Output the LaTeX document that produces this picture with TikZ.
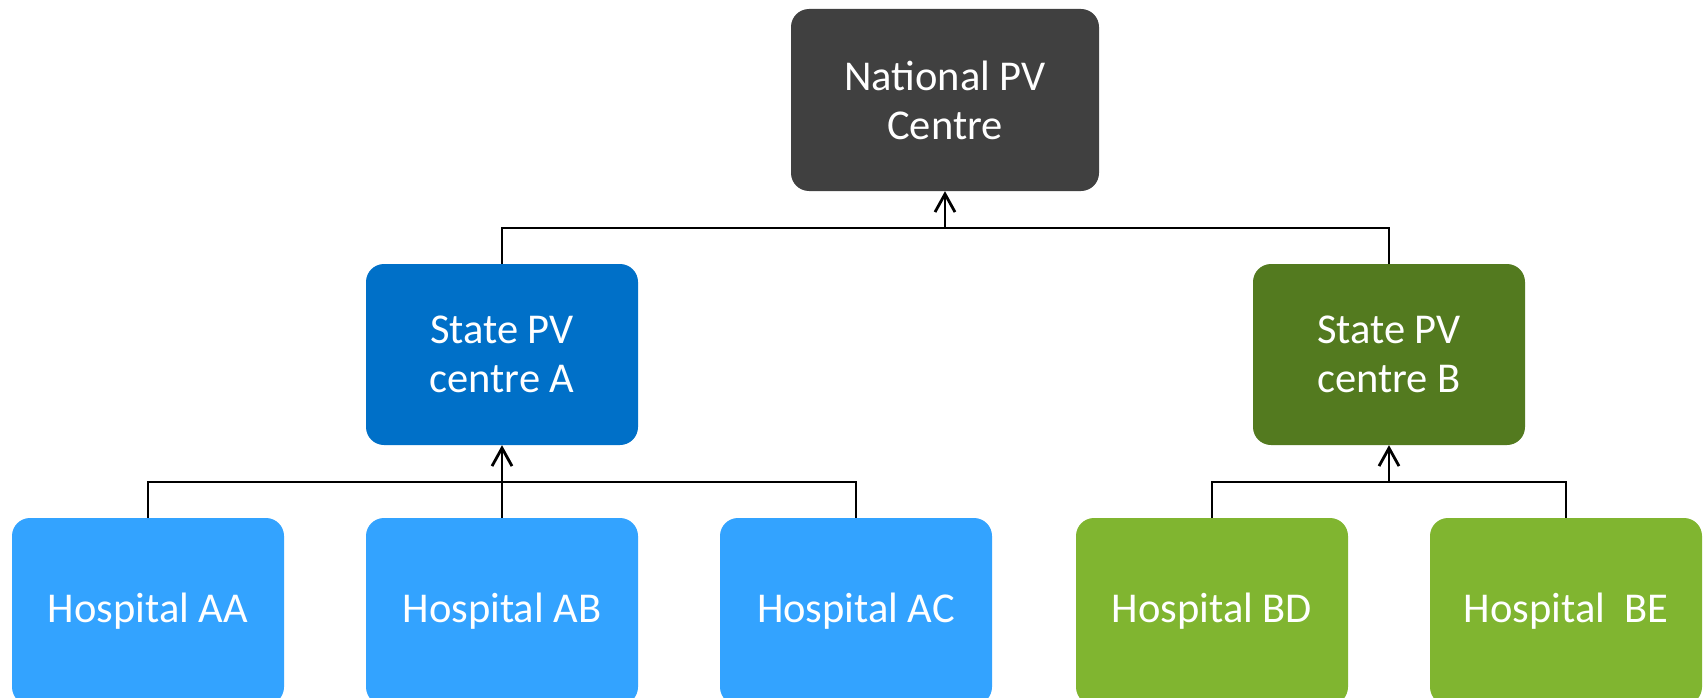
\documentclass[tikz,border=0pt]{standalone}
\usepackage{fontspec}
\setmainfont{Carlito}
\usetikzlibrary{arrows.meta}
\definecolor{natgrey}{HTML}{404040}
\definecolor{stateblue}{HTML}{0070C8}
\definecolor{stategreen}{HTML}{537A1F}
\definecolor{hospblue}{HTML}{33A3FF}
\definecolor{hospgreen}{HTML}{80B530}
\tikzset{
  box/.style={rectangle, rounded corners=18pt, inner sep=0pt, minimum width=272pt, minimum height=181pt,
    text=white, align=center, font=\fontsize{42.5}{49}\selectfont},
  link/.style={line width=2.8pt, draw=black},
  uparrow/.style={link, -{Straight Barb[length=18pt,width=20pt,line width=2.8pt]}}
}
\begin{document}
\begin{tikzpicture}[x=1pt,y=1pt]
\useasboundingbox (0,0) rectangle (1704,-698);
\node[box, fill=natgrey, minimum width=308pt, minimum height=182pt] (N) at (945,-100) {National PV\\Centre};
\node[box, fill=stateblue] (A) at (502,-354.5) {State PV\\centre A};
\node[box, fill=stategreen] (B) at (1389,-354.5) {State PV\\centre B};
\tikzset{hosp/.style={box, minimum height=187pt}}
\node[hosp, fill=hospblue] (AA) at (148,-611.5) {Hospital AA};
\node[hosp, fill=hospblue] (AB) at (502,-611.5) {Hospital AB};
\node[hosp, fill=hospblue] (AC) at (856,-611.5) {Hospital AC};
\node[hosp, fill=hospgreen] (BD) at (1212,-611.5) {Hospital BD};
\node[hosp, fill=hospgreen] (BE) at (1566,-611.5) {Hospital\ \ BE};
\coordinate (jN) at (945,-228);
\coordinate (jA) at (502,-482);
\coordinate (jB) at (1389,-482);
\draw[link] (A.north) |- (jN) -| (B.north);
\draw[uparrow] (jN) -- (N.south);
\draw[link] (AA.north) |- (jA) -| (AC.north);
\draw[uparrow] (AB.north) -- (A.south);
\draw[link] (BD.north) |- (jB) -| (BE.north);
\draw[uparrow] (jB) -- (B.south);
\end{tikzpicture}
\end{document}
